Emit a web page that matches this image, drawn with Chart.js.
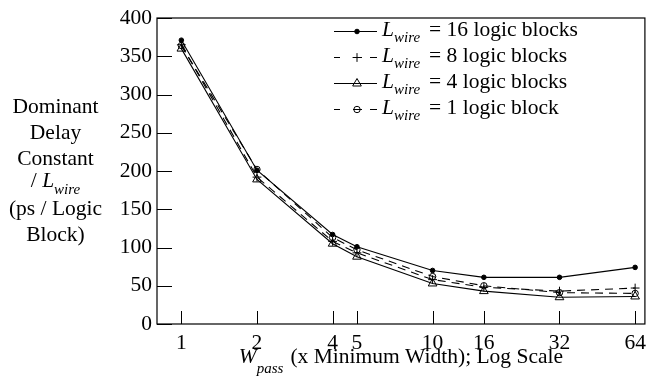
<!DOCTYPE html>
<html>
<head>
<meta charset="utf-8">
<script src="https://cdn.jsdelivr.net/npm/chart.js@4.4.1/dist/chart.umd.min.js"></script>
<style>
html,body{margin:0;padding:0;background:#fff;}
#wrap{width:652px;height:381px;position:relative;}
</style>
</head>
<body>
<div id="wrap"><canvas id="c"></canvas></div>
<script>
// ---- data ----
const xValues = [1, 2, 4, 5, 10, 16, 32, 64];
const seriesL16 = [371, 201, 117, 101, 70, 61, 61, 74];
const seriesL8  = [365, 192, 108, 93, 58, 48, 43, 47];
const seriesL4  = [360, 189, 105, 88, 53, 43, 35, 36];
const seriesL1  = [364, 202, 113, 97, 62, 50, 41, 40];
const legendTexts = ['= 16 logic blocks', '= 8 logic blocks', '= 4 logic blocks', '= 1 logic block'];
const xTickValues = [1, 2, 4, 5, 10, 16, 32, 64];
const yTickValues = [0, 50, 100, 150, 200, 250, 300, 350, 400];
const yTitleLines = ['Dominant', 'Delay', 'Constant', '/ L|wire', '(ps / Logic', 'Block)'];
const xTitleMain = 'W';
const xTitleSub = 'pass';
const xTitleRest = '(x Minimum Width); Log Scale';

const FONT = '"Liberation Serif", "Times New Roman", serif';
const SZ = 21.5, SUB = 15;

function pts(arr) { return xValues.map((x, i) => ({ x: x, y: arr[i] })); }

const styles = [
  { dash: [], point: 'circle', r: 2.3, fill: '#000' },
  { dash: [8, 6], point: 'cross', r: 4.4, fill: 'transparent' },
  { dash: [], point: 'triangle', r: 5, fill: 'transparent' },
  { dash: [8, 6], point: 'circle', r: 3.2, fill: 'transparent' }
];
const allSeries = [seriesL16, seriesL8, seriesL4, seriesL1];

const datasets = allSeries.map((s, i) => ({
  label: 'Lwire ' + legendTexts[i],
  data: pts(s),
  borderColor: '#000',
  borderWidth: 1.1,
  borderDash: styles[i].dash,
  pointStyle: styles[i].point,
  pointRadius: styles[i].r,
  pointHoverRadius: styles[i].r,
  pointBorderColor: '#000',
  pointBackgroundColor: styles[i].fill,
  pointBorderWidth: 1,
  tension: 0,
  fill: false
}));

function drawMarker(ctx, style, x, y) {
  ctx.save();
  ctx.setLineDash([]);
  ctx.strokeStyle = '#000';
  ctx.fillStyle = style.fill;
  ctx.lineWidth = 1;
  ctx.beginPath();
  if (style.point === 'circle') {
    ctx.arc(x, y, style.r, 0, Math.PI * 2);
    if (style.fill !== 'transparent') ctx.fill();
    ctx.stroke();
  } else if (style.point === 'cross') {
    ctx.moveTo(x - style.r, y); ctx.lineTo(x + style.r, y);
    ctx.moveTo(x, y - style.r); ctx.lineTo(x, y + style.r);
    ctx.stroke();
  } else if (style.point === 'triangle') {
    let rad = 0;
    ctx.moveTo(x + Math.sin(rad) * style.r, y - Math.cos(rad) * style.r);
    rad += 2 * Math.PI / 3;
    ctx.lineTo(x + Math.sin(rad) * style.r, y - Math.cos(rad) * style.r);
    rad += 2 * Math.PI / 3;
    ctx.lineTo(x + Math.sin(rad) * style.r, y - Math.cos(rad) * style.r);
    ctx.closePath();
    ctx.stroke();
  }
  ctx.restore();
}

function richWidth(ctx, parts) {
  let w = 0;
  parts.forEach(p => {
    ctx.font = (p.italic ? 'italic ' : '') + (p.sub ? SUB : SZ) + 'px ' + FONT;
    w += ctx.measureText(p.t).width + (p.gap || 0);
  });
  return w;
}
function drawRich(ctx, parts, x, y, subDy) {
  ctx.textAlign = 'left';
  ctx.textBaseline = 'alphabetic';
  ctx.fillStyle = '#000';
  parts.forEach(p => {
    ctx.font = (p.italic ? 'italic ' : '') + (p.sub ? SUB : SZ) + 'px ' + FONT;
    ctx.fillText(p.t, x, y + (p.sub ? subDy : 0));
    x += ctx.measureText(p.t).width + (p.gap || 0);
  });
}

const decorPlugin = {
  id: 'decor',
  afterDatasetsDraw(chart) {
    const ctx = chart.ctx;
    const a = chart.chartArea;
    const xs = chart.scales.x, ys = chart.scales.y;
    ctx.save();
    ctx.strokeStyle = '#000';
    ctx.lineWidth = 1.2;
    ctx.setLineDash([]);
    ctx.strokeRect(a.left, a.top, a.right - a.left, a.bottom - a.top);
    ctx.lineWidth = 1;
    ctx.beginPath();
    xTickValues.forEach(v => {
      const px = Math.round(xs.getPixelForValue(v)) + 0.5;
      ctx.moveTo(px, a.bottom); ctx.lineTo(px, a.bottom - 13);
    });
    yTickValues.forEach(v => {
      const py = Math.round(ys.getPixelForValue(v)) + 0.5;
      ctx.moveTo(a.left, py); ctx.lineTo(a.left + 15, py);
    });
    ctx.stroke();
    ctx.restore();
  },
  afterDraw(chart) {
    const ctx = chart.ctx;
    const a = chart.chartArea;
    ctx.save();
    // legend
    const lx0 = 334, lx1 = 377, mx = 357;
    chart.data.datasets.forEach((ds, i) => {
      const by = 36 + 26 * i;
      const ly = by - 4.5;
      ctx.strokeStyle = '#000';
      ctx.lineWidth = 1;
      ctx.setLineDash(styles[i].dash.length ? [6, 13, 9, 8, 7] : []);
      ctx.beginPath();
      ctx.moveTo(lx0, ly); ctx.lineTo(lx1, ly);
      ctx.stroke();
      ctx.setLineDash([]);
      drawMarker(ctx, styles[i], mx, ly);
      drawRich(ctx, [
        { t: 'L', italic: true },
        { t: 'wire', italic: true, sub: true, gap: 9 },
        { t: legendTexts[i] }
      ], 382, by, 6);
    });
    // y title
    const yBases = [113, 139, 165, 187, 215, 241];
    const cx = 55.5;
    yTitleLines.forEach((line, i) => {
      let parts;
      if (line.indexOf('|') >= 0) {
        const [pre, sub] = line.split('|');
        const mainPart = pre.slice(0, -1);
        const italicChar = pre.slice(-1);
        parts = [{ t: mainPart }, { t: italicChar, italic: true }, { t: sub, italic: true, sub: true }];
      } else {
        parts = [{ t: line }];
      }
      const w = richWidth(ctx, parts);
      drawRich(ctx, parts, cx - w / 2, yBases[i], 7);
    });
    // x title
    const xparts = [
      { t: xTitleMain, italic: true },
      { t: xTitleSub, italic: true, sub: true, gap: 7 },
      { t: xTitleRest }
    ];
    const xw = richWidth(ctx, xparts);
    drawRich(ctx, xparts, (a.left + a.right) / 2 - xw / 2, 363, 10);
    ctx.restore();
  }
};

const tickFont = { family: FONT, size: SZ };

new Chart(document.getElementById('c'), {
  type: 'line',
  data: { datasets: datasets },
  options: {
    responsive: true,
    maintainAspectRatio: false,
    animation: false,
    events: [],
    layout: { padding: { top: 18, right: 3, left: 0, bottom: 0 } },
    plugins: { legend: { display: false }, tooltip: { enabled: false } },
    scales: {
      x: {
        type: 'logarithmic',
        min: 0.8,
        max: 70,
        afterBuildTicks: s => { s.ticks = xTickValues.map(v => ({ value: v })); },
        afterFit: s => { s.height = 57; },
        ticks: {
          autoSkip: false, maxRotation: 0, minRotation: 0,
          color: '#000', font: tickFont, padding: 6,
          callback: v => String(v)
        },
        grid: { display: false, drawTicks: false },
        border: { display: false }
      },
      y: {
        type: 'linear',
        min: 0,
        max: 400,
        afterBuildTicks: s => { s.ticks = yTickValues.map(v => ({ value: v })); },
        afterFit: s => { s.width = 157; },
        ticks: { color: '#000', font: tickFont, padding: 5, callback: v => String(v) },
        grid: { display: false, drawTicks: false },
        border: { display: false }
      }
    }
  },
  plugins: [decorPlugin]
});
</script>
</body>
</html>
